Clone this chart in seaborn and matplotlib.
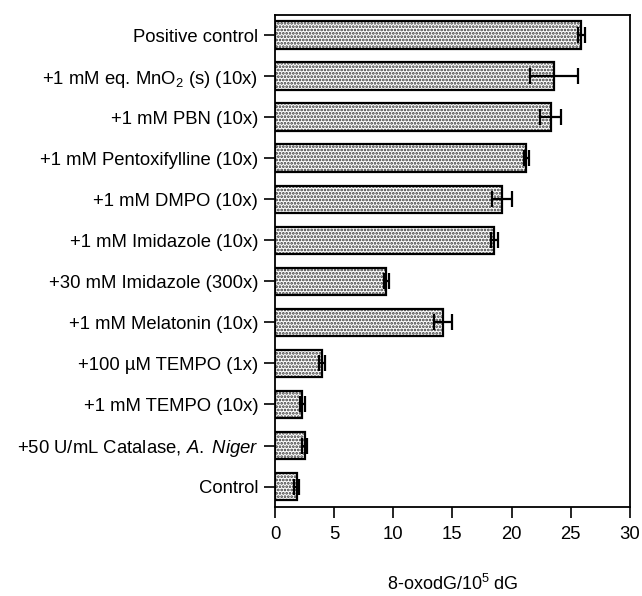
import numpy as np
import pandas as pd
import matplotlib
matplotlib.use("Agg")
import matplotlib.pyplot as plt
from matplotlib.patches import Rectangle
import seaborn as sns

# Values (8-oxodG per 10^5 dG)
treatments = [
    "Positive control",
    "+1 mM eq. MnO$_2$ (s) (10x)",
    "+1 mM PBN (10x)",
    "+1 mM Pentoxifylline (10x)",
    "+1 mM DMPO (10x)",
    "+1 mM Imidazole (10x)",
    "+30 mM Imidazole (300x)",
    "+1 mM Melatonin (10x)",
    "+100 \u00b5M TEMPO (1x)",
    "+1 mM TEMPO (10x)",
    "+50 U/mL Catalase, $\\mathit{A.\\ Niger}$",
    "Control",
]
oxodg = [25.9, 23.6, 23.3, 21.25, 19.2, 18.55, 9.4, 14.2, 4.0, 2.3, 2.5, 1.85]
errors = [0.3, 2.0, 0.9, 0.2, 0.85, 0.3, 0.2, 0.75, 0.25, 0.2, 0.2, 0.2]
x_ticks = [0, 5, 10, 15, 20, 25, 30]

df = pd.DataFrame({"treatment": treatments, "oxodG": oxodg, "err": errors})

sns.set_style("ticks")
plt.rcParams["font.family"] = ["Liberation Sans", "DejaVu Sans"]
plt.rcParams["mathtext.fontset"] = "custom"
plt.rcParams["mathtext.rm"] = "Liberation Sans"
plt.rcParams["mathtext.it"] = "Liberation Sans:italic"
plt.rcParams["mathtext.bf"] = "Liberation Sans:bold"
plt.rcParams["hatch.linewidth"] = 1.3
for k in ["text.color", "axes.labelcolor", "xtick.color", "ytick.color", "axes.edgecolor"]:
    plt.rcParams[k] = "black"

fig, ax = plt.subplots(figsize=(6.42, 5.96), dpi=100)
fig.subplots_adjust(left=0.4283, right=0.981, top=0.975, bottom=0.1493)

sns.barplot(data=df, x="oxodG", y="treatment", orient="h", color="white",
            width=0.68, edgecolor="#333333", linewidth=0, hatch=".....", ax=ax)

# crisp black outline on top of the stippled fill
for p in ax.patches:
    ax.add_patch(Rectangle(p.get_xy(), p.get_width(), p.get_height(),
                           fill=False, edgecolor="black", linewidth=1.6, zorder=3))

ax.errorbar(df["oxodG"], np.arange(len(df)), xerr=df["err"], fmt="none",
            ecolor="black", elinewidth=1.6, capsize=6, capthick=1.6, zorder=4)

ax.set_xlim(0, 30)
ax.set_ylim(len(df) - 0.5, -0.5)
ax.set_xticks(x_ticks)
ax.set_ylabel("")
ax.set_xlabel("8-oxodG/10$^5$ dG", fontsize=13, labelpad=22)
ax.tick_params(axis="both", labelsize=13.3, length=8, width=1.2, direction="out", color="black")
ax.tick_params(axis="y", pad=4)
ax.tick_params(axis="x", pad=6)
for s in ax.spines.values():
    s.set_linewidth(1.3)
    s.set_color("black")

plt.savefig("out.png", dpi=100)
